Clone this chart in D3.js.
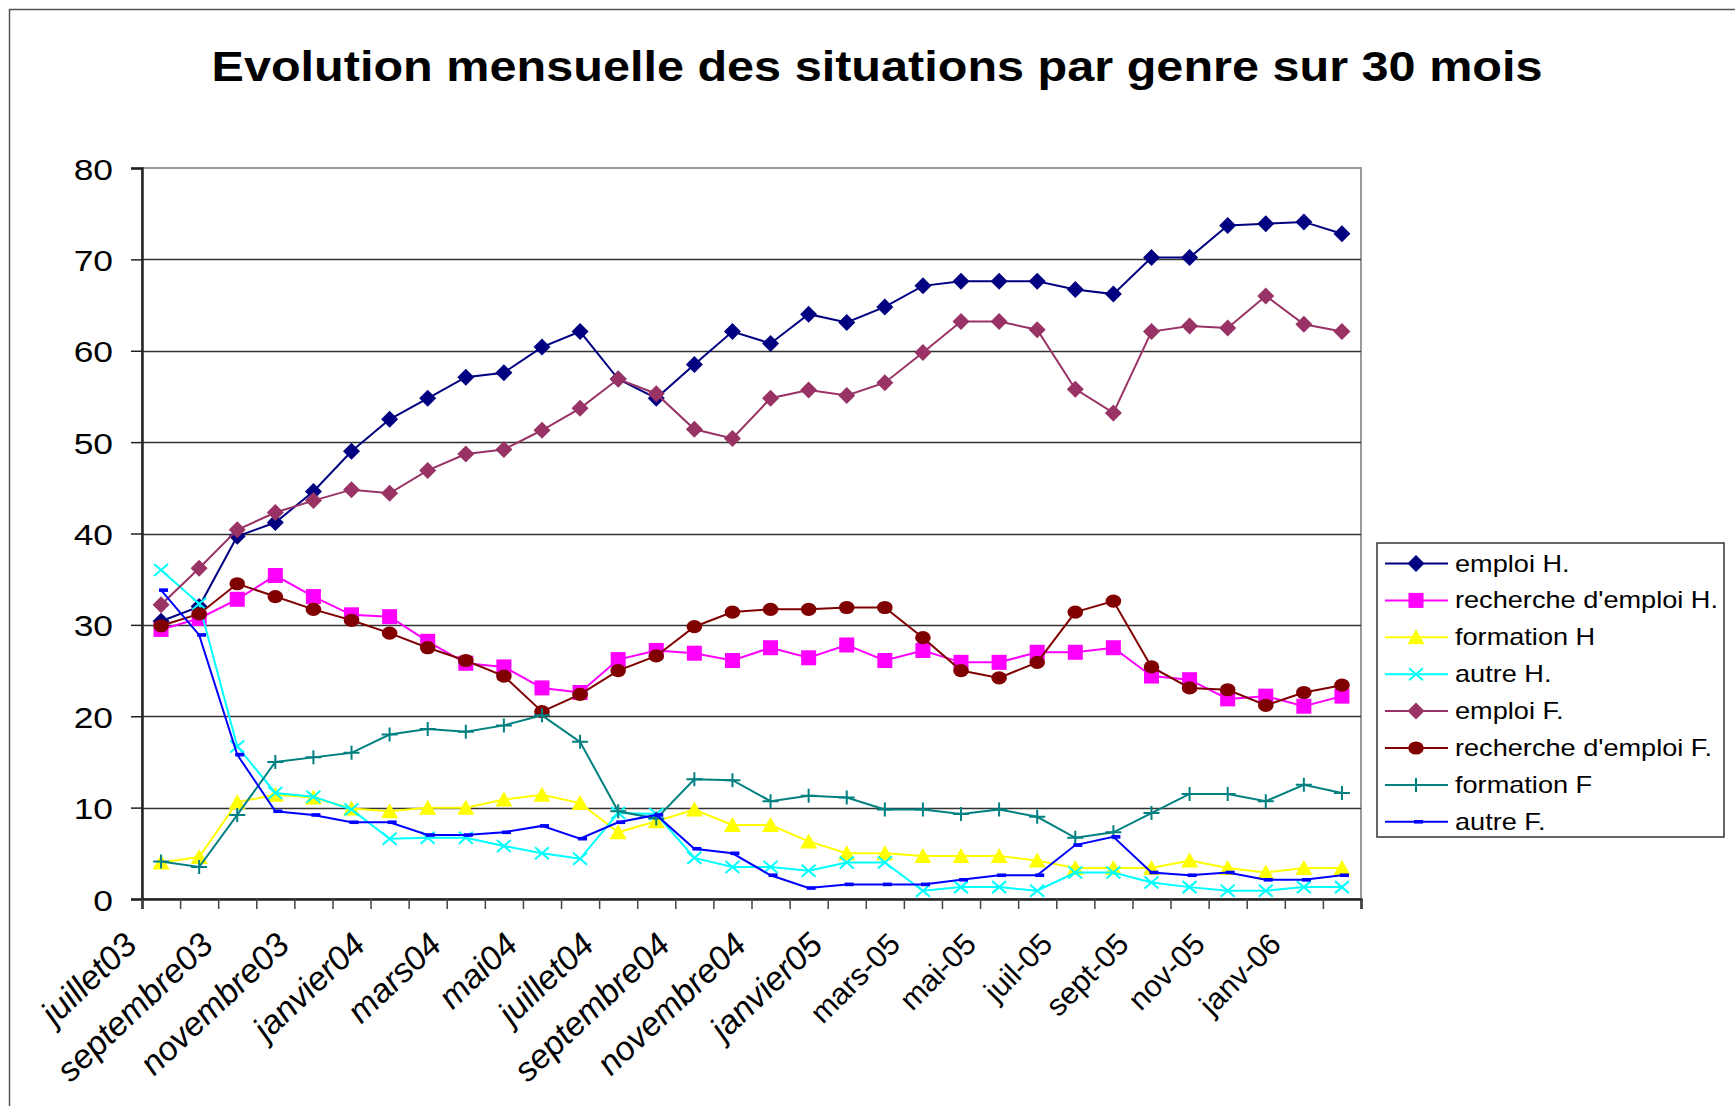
<!DOCTYPE html>
<html>
<head>
<meta charset="utf-8">
<script src="https://cdn.jsdelivr.net/npm/d3@7"></script>
<style>
  body { margin: 0; background: #fff; }
  text { font-family: "Liberation Sans", Arial, sans-serif; fill: #000; }
</style>
</head>
<body>
<svg id="chart"></svg>
<script>
// 1. Data

const months = ["juillet03", "août03", "septembre03", "octobre03", "novembre03", "décembre03",
  "janvier04", "février04", "mars04", "avril04", "mai04", "juin04", "juillet04", "août04",
  "septembre04", "octobre04", "novembre04", "décembre04", "janvier05", "févr-05", "mars-05",
  "avr-05", "mai-05", "juin-05", "juil-05", "août-05", "sept-05", "oct-05", "nov-05",
  "déc-05", "janv-06", "févr-06"]

const yTicks = [0, 10, 20, 30, 40, 50, 60, 70, 80]

const emploiH = [30.4, 32.0, 39.7, 41.2, 44.6, 49.0, 52.5, 54.8, 57.1, 57.6, 60.4, 62.1,
  56.9, 54.8, 58.5, 62.1, 60.8, 64.0, 63.1, 64.8, 67.1, 67.6, 67.6, 67.6, 66.7, 66.2,
  70.2, 70.2, 73.7, 73.9, 74.1, 72.8]
const rechercheH = [29.5, 30.7, 32.8, 35.4, 33.1, 31.1, 30.9, 28.2, 25.8, 25.4, 23.1, 22.6,
  26.2, 27.2, 26.9, 26.1, 27.5, 26.4, 27.8, 26.1, 27.2, 25.9, 25.9, 27.0, 27.0, 27.5,
  24.4, 24.0, 21.9, 22.2, 21.1, 22.2]
const formationH = [4.0, 4.6, 10.6, 11.4, 11.1, 9.9, 9.6, 10.0, 10.0, 10.9, 11.4, 10.5,
  7.3, 8.5, 9.8, 8.1, 8.1, 6.3, 5.0, 5.0, 4.7, 4.7, 4.7, 4.2, 3.4, 3.4,
  3.4, 4.2, 3.4, 2.9, 3.4, 3.4]
const autreH = [36.0, 32.3, 16.7, 11.6, 11.2, 9.8, 6.6, 6.7, 6.7, 5.8, 5.0, 4.4,
  9.4, 9.3, 4.5, 3.5, 3.5, 3.1, 4.0, 4.0, 0.9, 1.3, 1.3, 0.9, 2.9, 2.9,
  1.8, 1.3, 0.9, 0.9, 1.3, 1.3]
const emploiF = [32.2, 36.2, 40.4, 42.3, 43.6, 44.8, 44.4, 46.9, 48.7, 49.2, 51.3, 53.7,
  56.9, 55.3, 51.4, 50.4, 54.8, 55.7, 55.1, 56.5, 59.8, 63.2, 63.2, 62.3, 55.8, 53.2,
  62.1, 62.7, 62.5, 66.0, 62.9, 62.1]
const rechercheF = [29.9, 31.2, 34.5, 33.1, 31.7, 30.5, 29.1, 27.5, 26.1, 24.4, 20.5, 22.4,
  25.0, 26.6, 29.8, 31.4, 31.7, 31.7, 31.9, 31.9, 28.6, 25.0, 24.2, 25.9, 31.4, 32.6,
  25.4, 23.1, 22.9, 21.2, 22.6, 23.4]
const formationF = [4.1, 3.5, 9.2, 15.0, 15.5, 16.0, 18.0, 18.6, 18.3, 19.0, 20.1, 17.2,
  9.6, 8.8, 13.1, 13.0, 10.7, 11.3, 11.1, 9.8, 9.8, 9.3, 9.8, 9.0, 6.7, 7.3,
  9.4, 11.5, 11.5, 10.7, 12.5, 11.6]
const autreF = [33.8, 28.9, 15.8, 9.6, 9.2, 8.4, 8.4, 7.0, 7.0, 7.3, 8.0, 6.6,
  8.4, 9.2, 5.5, 5.0, 2.6, 1.2, 1.6, 1.6, 1.6, 2.1, 2.6, 2.6, 5.9, 6.8,
  2.9, 2.6, 2.9, 2.1, 2.1, 2.6]

const series = [
  { name: "emploi H.", values: emploiH, color: "#000080", marker: "diamond" },
  { name: "recherche d'emploi H.", values: rechercheH, color: "#FF00FF", marker: "square" },
  { name: "formation H", values: formationH, color: "#FFFF00", marker: "triangle" },
  { name: "autre H.", values: autreH, color: "#00FFFF", marker: "x" },
  { name: "emploi F.", values: emploiF, color: "#993366", marker: "diamond" },
  { name: "recherche d'emploi F.", values: rechercheF, color: "#800000", marker: "circle" },
  { name: "formation F", values: formationF, color: "#008080", marker: "plus" },
  { name: "autre F.", values: autreF, color: "#0000FF", marker: "dash" },
]

// 2. Dimensions

const width = 1735
const height = 1106
const plot = { left: 142, right: 1361, top: 168, bottom: 899 }
const stretch = 1.18   // text in the picture is a bit wider than tall

// 3. Canvas

const svg = d3.select("#chart")
    .attr("width", width)
    .attr("height", height)

// outer chart frame (only left and top edges visible)
svg.append("path")
    .attr("d", `M9.5,${height + 5} V9.5 H${width + 5}`)
    .attr("fill", "none")
    .attr("stroke", "#555")
    .attr("stroke-width", 1.5)

// title
svg.append("text")
    .attr("transform", `translate(877, 81) scale(1.13, 1)`)
    .attr("text-anchor", "middle")
    .style("font-size", "43px")
    .style("font-weight", "bold")
    .text("Evolution mensuelle des situations par genre sur 30 mois")

// 4. Scales

const x = d3.scaleBand()
    .domain(months)
    .range([plot.left, plot.right])
    .padding(0)

const xEdge = d3.scaleLinear()
    .domain([0, months.length])
    .range([plot.left, plot.right])

const y = d3.scaleLinear()
    .domain([0, 80])
    .range([plot.bottom, plot.top])

const cx = d => x(d) + x.bandwidth() / 2

// 5. Grid and plot frame

svg.append("rect")
    .attr("x", plot.left)
    .attr("y", plot.top)
    .attr("width", plot.right - plot.left)
    .attr("height", plot.bottom - plot.top)
    .attr("fill", "none")
    .attr("stroke", "#9a9a9a")
    .attr("stroke-width", 2)

svg.append("g")
  .selectAll("line")
  .data(yTicks.filter(d => d > 0 && d < 80))
  .join("line")
    .attr("x1", plot.left)
    .attr("x2", plot.right)
    .attr("y1", d => Math.round(y(d)) + 0.5)
    .attr("y2", d => Math.round(y(d)) + 0.5)
    .attr("stroke", "#333")
    .attr("stroke-width", 1.3)

// 6. Axes

const yAxis = svg.append("g")
    .attr("transform", `translate(${plot.left}, 0)`)
    .call(d3.axisLeft(y).tickValues(yTicks).tickSize(11).tickPadding(0))
yAxis.select(".domain").attr("stroke", "#222").attr("stroke-width", 2.5)
yAxis.selectAll(".tick line").attr("stroke", "#222").attr("stroke-width", 1.5)
yAxis.selectAll(".tick text")
    .attr("x", null)
    .attr("dy", null)
    .attr("transform", `translate(-29, 11) scale(${stretch}, 1)`)
    .style("font-size", "30px")
    .style("font-family", '"Liberation Sans", Arial, sans-serif')

const xTicks = svg.append("g")
    .attr("transform", `translate(0, ${plot.bottom})`)
    .call(d3.axisBottom(xEdge).tickValues(d3.range(0, months.length + 1)).tickSize(10).tickFormat(""))
xTicks.select(".domain").attr("stroke", "#222").attr("stroke-width", 2.5)
xTicks.selectAll(".tick line").attr("stroke", "#444").attr("stroke-width", 1.5)

// month names typed as text look slanted and larger, date-formatted ones upright
svg.append("g")
  .selectAll("text")
  .data(months.filter((d, i) => i % 2 === 0))
  .join("text")
    .attr("transform", d => d.includes("-")
      ? `translate(${cx(d) - 21}, ${plot.bottom + 47}) rotate(-45)`
      : `translate(${cx(d) - 22}, ${plot.bottom + 48}) scale(1.06, 1) rotate(-45)`)
    .attr("text-anchor", "end")
    .style("font-size", d => d.includes("-") ? "30.5px" : "33px")
    .style("font-style", d => d.includes("-") ? "normal" : "italic")
    .text(d => d)

// 7. Lines and markers

const line = d3.line()
    .x((d, i) => cx(months[i]))
    .y(d => y(d))

function drawMarker(g, type, color) {
  if (type === "diamond") {
    g.append("path").attr("d", "M0,-8.5 L8.5,0 L0,8.5 L-8.5,0 Z").attr("fill", color)
  } else if (type === "square") {
    g.append("rect").attr("x", -7.5).attr("y", -7.5).attr("width", 15).attr("height", 15).attr("fill", color)
  } else if (type === "triangle") {
    g.append("path").attr("d", "M0,-8 L8.5,7 L-8.5,7 Z").attr("fill", color)
  } else if (type === "circle") {
    g.append("ellipse").attr("rx", 7.8).attr("ry", 6.6).attr("fill", color)
  } else if (type === "x") {
    g.append("path").attr("d", "M-7,-6 L7,6 M-7,6 L7,-6").attr("stroke", color).attr("stroke-width", 2)
  } else if (type === "plus") {
    g.append("path").attr("d", "M-8,0 L8,0 M0,-7 L0,7").attr("stroke", color).attr("stroke-width", 2)
  } else if (type === "dash") {
    g.append("rect").attr("x", -2).attr("y", -1.8).attr("width", 9).attr("height", 3.6).attr("fill", color)
  }
}

series.forEach(s => {
  const g = svg.append("g")
  g.append("path")
      .datum(s.values)
      .attr("d", line)
      .attr("fill", "none")
      .attr("stroke", s.color)
      .attr("stroke-width", 2)
  s.values.forEach((v, i) => {
    const m = g.append("g").attr("transform", `translate(${cx(months[i])}, ${y(v)})`)
    drawMarker(m, s.marker, s.color)
  })
})

// 8. Legend

const legend = svg.append("g")
legend.append("rect")
    .attr("x", 1377)
    .attr("y", 543)
    .attr("width", 347)
    .attr("height", 294)
    .attr("fill", "#fff")
    .attr("stroke", "#333")
    .attr("stroke-width", 1.5)

series.forEach((s, i) => {
  const ly = 563.5 + i * 36.9
  const item = legend.append("g")
  item.append("line")
      .attr("x1", 1385).attr("x2", 1448)
      .attr("y1", ly).attr("y2", ly)
      .attr("stroke", s.color)
      .attr("stroke-width", 2)
  const m = item.append("g").attr("transform", `translate(1416, ${ly})`)
  drawMarker(m, s.marker, s.color)
  item.append("text")
      .attr("transform", `translate(1455, ${ly + 8}) scale(${stretch}, 1)`)
      .style("font-size", "23px")
      .text(s.name)
})
</script>
</body>
</html>
